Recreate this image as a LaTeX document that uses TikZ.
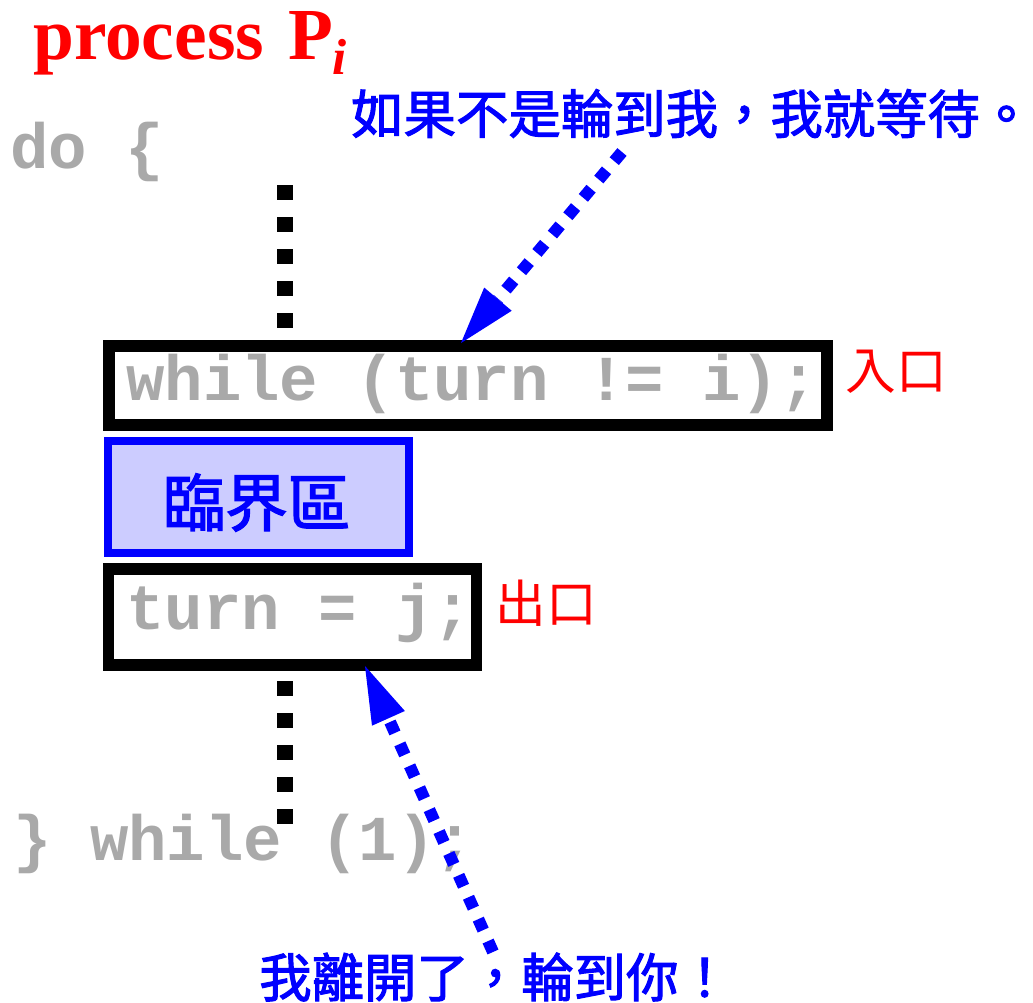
\documentclass[tikz,border=0pt]{standalone}
\usepackage{fontspec}
\setmainfont{Liberation Serif}
\newfontfamily\codefont{Liberation Mono}
\newfontfamily\cjk{Noto Sans CJK TC}
\newfontfamily\cjkmsg[FakeBold=2]{Noto Sans CJK TC}
\usetikzlibrary{arrows.meta}
\definecolor{codegray}{RGB}{169,169,169}
\definecolor{critfill}{RGB}{204,204,255}
\begin{document}
\begin{tikzpicture}[x=0.75pt,y=-0.75pt,
  codetext/.style={anchor=base west, inner sep=0, text=codegray, font=\codefont\bfseries\fontsize{48}{50}\selectfont},
  codebox/.style={draw=black, line width=8.6pt, fill=white, inner sep=0},
  critbox/.style={draw=blue, line width=6.4pt, fill=critfill, inner sep=0},
  redlabel/.style={text=red, inner sep=0, font=\cjk\fontsize{38}{40}\selectfont},
  bluemsg/.style={text=blue, inner sep=0, anchor=west, font=\cjkmsg\fontsize{39.3}{42}\selectfont},
  dotline/.style={draw=black, line width=12pt, dash pattern=on 11.25pt off 12.75pt},
  bluearrow/.style={draw=blue, line width=9pt, dash pattern=on 9pt off 9pt, -{Triangle[length=43pt,width=27pt,line width=0pt]}},
]
\useasboundingbox (0,0) rectangle (1033,1003);

% title
\node[anchor=base west, inner sep=0, text=red, font=\bfseries\fontsize{55}{60}\selectfont] (title) at (33,60)
  {process\hspace{18.5pt}P\kern-1pt\raisebox{-11pt}{\fontsize{38}{40}\selectfont\itshape i}};

% code lines
\node[codetext] (doL) at (10,168) {do \{};

% boxes
\node[codebox, minimum width=538.7pt, minimum height=59.4pt] (wh) at (467.9,385.4) {};
\node[critbox, minimum width=225.75pt, minimum height=84pt] (crit) at (258.5,497) {};
\node[codebox, minimum width=275.8pt, minimum height=72.2pt] (tb) at (292.6,616.9) {};

\node[codetext] (whtext) at (126,400) {while (turn != i);};
\node[text=blue, inner sep=0, font=\cjkmsg\fontsize{47}{50}\selectfont] (crittext) at (256.5,502.5) {臨界區};
\node[codetext] (tjtext) at (126,629) {turn = j;};
\node[codetext] (endL) at (13,860) {\} while (1);};

% labels
\node[redlabel] (entry) at (896,372) {入口};
\node[redlabel] (exit) at (546,603) {出口};
\node[bluemsg] (msgtop) at (351,113.5) {如果不是輪到我，我就等待。};
\node[bluemsg] (msgbot) at (259,977) {我離開了，輪到你！};

% dotted continuation lines
\coordinate (d1s) at (285,185);
\coordinate (d1e) at (285,328);
\coordinate (d2s) at (285,681);
\coordinate (d2e) at (285,825);
\draw[dotline] (d1s) -- (d1e);
\draw[dotline] (d2s) -- (d2e);

% arrows
\coordinate (a1s) at (622,152);
\coordinate (a1e) at (461,343);
\coordinate (a2s) at (493,952);
\coordinate (a2e) at (365,666);
\draw[bluearrow] (a1s) -- (a1e);
\draw[bluearrow] (a2s) -- (a2e);
\end{tikzpicture}
\end{document}
